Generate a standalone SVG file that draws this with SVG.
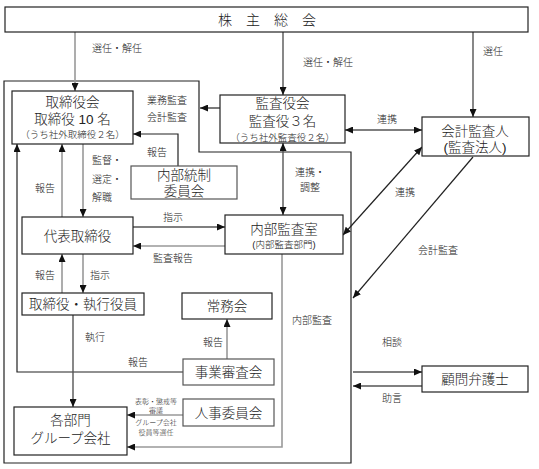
<svg xmlns="http://www.w3.org/2000/svg" width="539" height="469" viewBox="0 0 539 469">
<style>
text{font-family:"Liberation Sans","Noto Sans CJK JP",sans-serif;fill:#222;font-weight:300}
.n{font-size:13.5px;text-anchor:middle}
.s{font-size:9.5px;text-anchor:middle}
.l{font-size:10px}
.t{font-size:7px;text-anchor:middle}
.box{fill:#fff;stroke:#222;stroke-width:1.2}
.gbox{fill:#fff;stroke:#555;stroke-width:1.2}
.k{fill:none;stroke:#222;stroke-width:1.2}
.d{fill:none;stroke:#555;stroke-width:1.4}
.g{fill:none;stroke:#999;stroke-width:1.6}
</style>
<defs>
<marker id="a" viewBox="0 0 8 7" refX="8" refY="3.5" markerWidth="8" markerHeight="7" markerUnits="userSpaceOnUse" orient="auto-start-reverse"><path d="M0,0 L8,3.5 L0,7 z" fill="#111"/></marker>
</defs>
<g id="frame"><polygon class="k" points="4,81 199,81 199,152 351,152 351,463 4,463"/></g>
<g id="connectors">
<line class="g" x1="75" y1="32" x2="75" y2="91" marker-end="url(#a)"/>
<line class="d" x1="283" y1="32" x2="283" y2="95" marker-end="url(#a)"/>
<line class="d" x1="473" y1="32" x2="473" y2="117" marker-end="url(#a)"/>
<line class="k" x1="220" y1="108" x2="200" y2="108" marker-end="url(#a)"/>
<line class="d" x1="345" y1="130" x2="422" y2="130" marker-start="url(#a)" marker-end="url(#a)"/>
<polyline class="k" points="178,166 178,134 133,134" marker-end="url(#a)"/>
<line class="d" x1="283" y1="143" x2="283" y2="215" marker-start="url(#a)" marker-end="url(#a)"/>
<line class="k" x1="422" y1="147" x2="343" y2="235" marker-start="url(#a)" marker-end="url(#a)"/>
<line class="k" x1="473" y1="157" x2="353" y2="298" marker-end="url(#a)"/>
<line class="g" x1="83" y1="144" x2="83" y2="217" marker-end="url(#a)"/>
<line class="g" x1="62" y1="217" x2="62" y2="144" marker-end="url(#a)"/>
<polyline class="k" points="183,372 17,372 17,144" marker-end="url(#a)"/>
<line class="d" x1="133" y1="227" x2="225" y2="227" marker-end="url(#a)"/>
<line class="g" x1="225" y1="246" x2="133" y2="246" marker-end="url(#a)"/>
<line class="g" x1="62" y1="293" x2="62" y2="254" marker-end="url(#a)"/>
<line class="g" x1="83" y1="254" x2="83" y2="293" marker-end="url(#a)"/>
<line class="d" x1="73" y1="315" x2="73" y2="407" marker-end="url(#a)"/>
<line class="g" x1="227" y1="359" x2="227" y2="319" marker-end="url(#a)"/>
<line class="g" x1="183" y1="415" x2="127" y2="415" marker-end="url(#a)"/>
<polyline class="g" points="282,254 282,447 127,447" marker-end="url(#a)"/>
<line class="d" x1="353" y1="372" x2="422" y2="372" marker-end="url(#a)"/>
<line class="d" x1="422" y1="386" x2="353" y2="386" marker-end="url(#a)"/>
</g>
<g id="labels">
<text class="l" x="92" y="52">選任・解任</text>
<text class="l" x="303" y="66">選任・解任</text>
<text class="l" x="483" y="55">選任</text>
<text class="l" x="147" y="104">業務監査</text>
<text class="l" x="147" y="121">会計監査</text>
<text class="l" x="377" y="123">連携</text>
<text class="l" x="147" y="156">報告</text>
<text class="l" x="295" y="176">連携・</text>
<text class="l" x="300" y="191">調整</text>
<text class="l" x="395" y="196">連携</text>
<text class="l" x="418" y="254">会計監査</text>
<text class="l" x="92" y="164">監督・</text>
<text class="l" x="92" y="183">選定・</text>
<text class="l" x="92" y="201">解職</text>
<text class="l" x="35" y="192">報告</text>
<text class="l" x="163" y="221">指示</text>
<text class="l" x="153" y="262">監査報告</text>
<text class="l" x="35" y="279">報告</text>
<text class="l" x="90" y="279">指示</text>
<text class="l" x="85" y="341">執行</text>
<text class="l" x="128" y="366">報告</text>
<text class="l" x="203" y="346">報告</text>
<text class="l" x="292" y="324">内部監査</text>
<text class="l" x="382" y="346">相談</text>
<text class="l" x="382" y="402">助言</text>
<text class="t" x="156" y="404">表彰・懲戒等</text>
<text class="t" x="156" y="413">審議</text>
<text class="t" x="156" y="425">グループ会社</text>
<text class="t" x="156" y="435">役員等選任</text>
</g>
<g id="shareholders"><rect class="box" x="5" y="7" width="523" height="25"/><text class="n" x="267" y="25" style="font-size:14px">株　主　総　会</text></g>
<g id="board"><rect class="box" x="12" y="91" width="121" height="53"/><text class="n" x="72.5" y="107">取締役会</text><text class="n" x="72.5" y="124">取締役 10 名</text><text class="s" x="72.5" y="138">（うち社外取締役２名）</text></g>
<g id="auditors"><rect class="box" x="220" y="95" width="125" height="48"/><text class="n" x="282.5" y="108">監査役会</text><text class="n" x="282.5" y="126">監査役３名</text><text class="s" x="282.5" y="141">（うち社外監査役２名）</text></g>
<g id="accounting-auditor"><rect class="box" x="422" y="117" width="107" height="39"/><text class="n" x="475" y="136">会計監査人</text><text class="n" x="475" y="152">(監査法人)</text></g>
<g id="internal-control"><rect class="gbox" x="131" y="166" width="106" height="33"/><text class="n" x="184" y="180">内部統制</text><text class="n" x="184" y="196">委員会</text></g>
<g id="president"><rect class="box" x="22" y="217" width="111" height="37"/><text class="n" x="77.5" y="241">代表取締役</text></g>
<g id="internal-audit"><rect class="box" x="225" y="215" width="118" height="39"/><text class="n" x="284" y="234">内部監査室</text><text class="s" x="284" y="248">(内部監査部門)</text></g>
<g id="executives"><rect class="box" x="22" y="293" width="122" height="22"/><text class="n" x="83" y="309">取締役・執行役員</text></g>
<g id="managing-committee"><rect class="box" x="182" y="293" width="90" height="26"/><text class="n" x="227" y="311">常務会</text></g>
<g id="business-review"><rect class="gbox" x="183" y="359" width="91" height="26"/><text class="n" x="228.5" y="377">事業審査会</text></g>
<g id="personnel"><rect class="gbox" x="183" y="399" width="91" height="27"/><text class="n" x="228.5" y="418">人事委員会</text></g>
<g id="divisions"><rect class="box" x="14" y="407" width="113" height="48"/><text class="n" x="70.5" y="425">各部門</text><text class="n" x="70.5" y="443">グループ会社</text></g>
<g id="lawyer"><rect class="box" x="422" y="366" width="106" height="26"/><text class="n" x="475" y="384">顧問弁護士</text></g>
</svg>
